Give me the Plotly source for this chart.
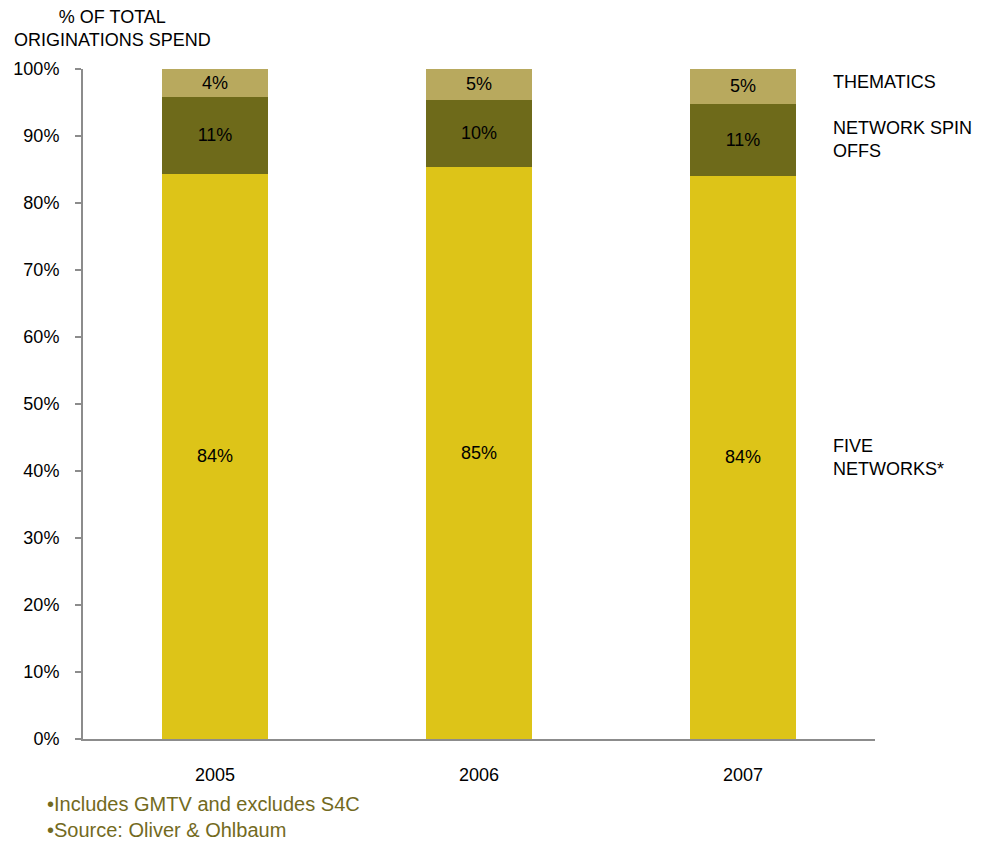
import plotly.graph_objects as go

years = ["2005", "2006", "2007"]
five_networks = [84.4, 85.4, 84.1]
network_spin_offs = [11.4, 10.0, 10.7]
thematics = [4.2, 4.6, 5.2]

series = [
    ("FIVE NETWORKS*", five_networks, "#DDC418"),
    ("NETWORK SPIN OFFS", network_spin_offs, "#6E6A1A"),
    ("THEMATICS", thematics, "#B8A95E"),
]
side_labels = ["FIVE<br>NETWORKS*", "NETWORK SPIN<br>OFFS", "THEMATICS"]
side_shift = [0, 0, 4]

FONT = "Liberation Sans, Arial, sans-serif"

fig = go.Figure()
for name, vals, color in series:
    fig.add_trace(go.Bar(
        x=years, y=vals, name=name,
        marker=dict(color=color, line=dict(width=0)),
        text=[f"{round(v)}%" for v in vals],
        textposition="inside", insidetextanchor="middle",
        textfont=dict(family=FONT, size=18, color="#000000"),
        width=0.4, showlegend=False,
    ))

# series names beside the last bar, at each segment's mid-height
base = 0.0
for (name, vals, color), lab, dy in zip(series, side_labels, side_shift):
    mid = base + vals[-1] / 2
    base += vals[-1]
    fig.add_annotation(x=0.945, xref="paper", y=mid, yref="y", text=lab,
                       showarrow=False, xanchor="left", yanchor="middle", align="left",
                       yshift=dy,
                       font=dict(family=FONT, size=18, color="#000000"))

fig.add_annotation(x=0.037, xref="paper", y=1.026, yref="paper",
                   text="% OF TOTAL<br>ORIGINATIONS SPEND", showarrow=False,
                   xanchor="center", yanchor="bottom", align="center",
                   font=dict(family=FONT, size=18, color="#000000"))

fig.add_annotation(x=-0.048, xref="paper", y=-0.078, yref="paper",
                   text="•Includes GMTV and excludes S4C<br>•Source: Oliver & Ohlbaum",
                   showarrow=False, xanchor="left", yanchor="top", align="left",
                   font=dict(family=FONT, size=20, color="#736A1E"))

fig.update_layout(
    barmode="stack",
    width=981, height=842,
    margin=dict(l=83, r=106, t=69, b=103),
    paper_bgcolor="white", plot_bgcolor="white",
    font=dict(family=FONT, size=18, color="#000000"),
    xaxis=dict(range=[-0.5, 2.5], showline=True, linecolor="#8C8C8C", linewidth=2,
               ticks="", showgrid=False, zeroline=False, ticklabelstandoff=18,
               tickfont=dict(family=FONT, size=18, color="#000000")),
    yaxis=dict(range=[0, 100], tickvals=list(range(0, 101, 10)),
               ticktext=[f"{v}%" for v in range(0, 101, 10)],
               showline=True, linecolor="#8C8C8C", linewidth=2,
               ticks="outside", ticklen=6, tickcolor="#8C8C8C", tickwidth=2,
               showgrid=False, zeroline=False, ticklabelstandoff=12,
               tickfont=dict(family=FONT, size=18, color="#000000")),
)

fig.write_html("out.html")
